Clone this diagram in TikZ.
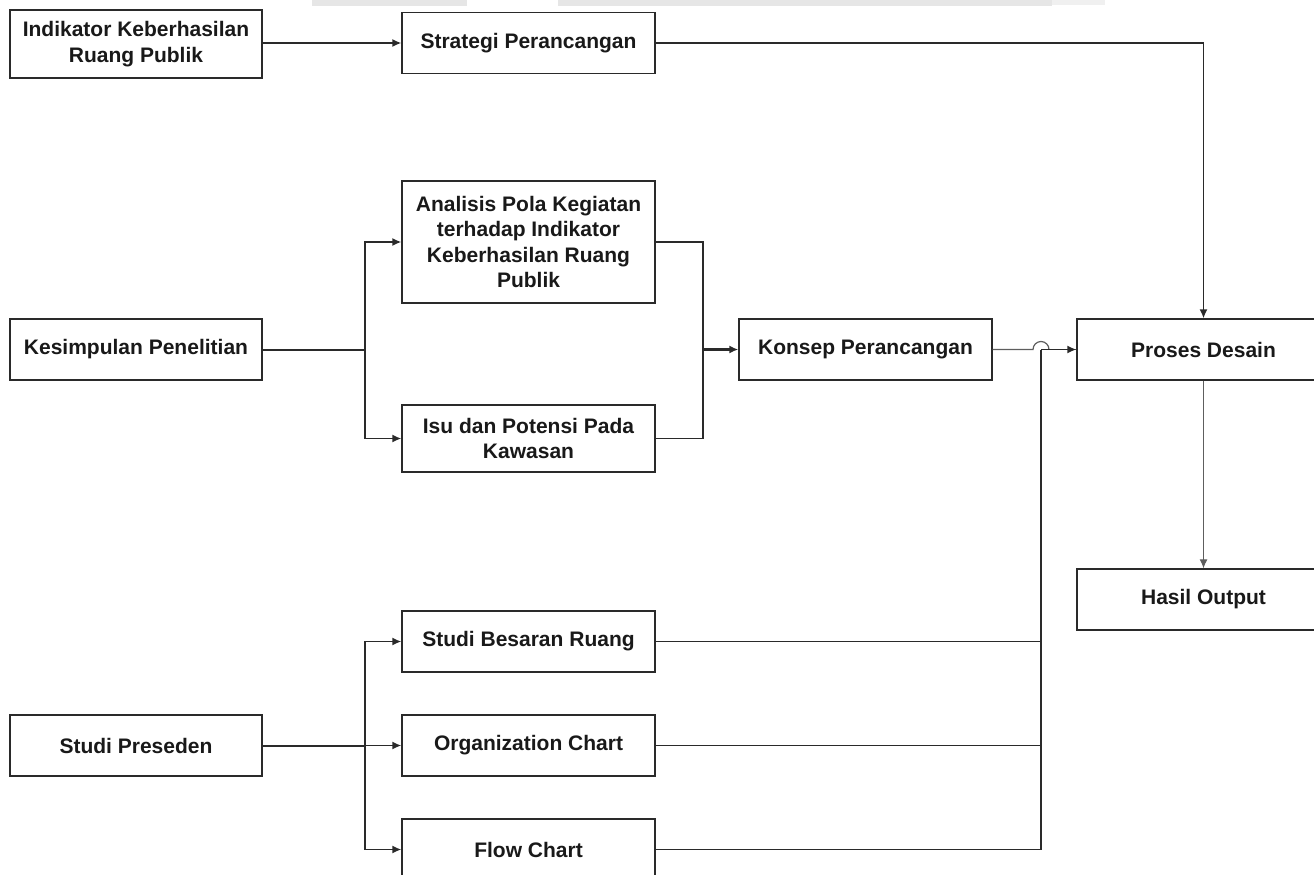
\documentclass[tikz,border=0pt]{standalone}
\usepackage{fontspec}
\setmainfont{Liberation Sans}
\usetikzlibrary{arrows.meta}
\definecolor{ln}{HTML}{2A2A2A}
\definecolor{lg}{HTML}{5E5E5E}
\definecolor{band}{HTML}{E6E6E6}
\begin{document}
\begin{tikzpicture}[x=1pt,y=-1pt,
  box/.style={draw=ln, line width=1.3pt, fill=white, minimum width=253pt, minimum height=61pt,
    inner sep=2pt, align=center, font=\fontsize{21}{25.5}\selectfont\bfseries, text=black!90},
  conn/.style={draw=ln, line width=1.6pt},
  tip/.style={-{Latex[length=9pt,width=8pt]}},
  arr/.style={conn, tip},
  thin/.style={draw=lg, line width=1.2pt}]
\useasboundingbox (0,0) rectangle (1314,875);
\fill[band] (312,0) rectangle (467,6);
\fill[band] (558,0) rectangle (1052,6);
\fill[band!60] (1052,0) rectangle (1105,5);

\node[box, minimum width=252pt, minimum height=68pt] (ind) at (136,44) {Indikator Keberhasilan\\Ruang Publik};
\node[box] (str) at (528.5,43) {Strategi Perancangan};
\node[box, minimum height=122pt] (ana) at (528.5,242) {Analisis Pola Kegiatan\\terhadap Indikator\\Keberhasilan Ruang\\Publik};
\node[box, minimum width=252pt] (kes) at (136,349.5) {Kesimpulan Penelitian};
\node[box, minimum height=67pt] (isu) at (528.5,438.5) {Isu dan Potensi Pada\\Kawasan};
\node[box] (kon) at (865.5,349.5) {Konsep Perancangan};
\node[box] (pro) at (1203.5,349.5) {Proses Desain};
\node[box] (has) at (1203.5,599.5) {Hasil Output};
\node[box] (sbr) at (528.5,641.5) {Studi Besaran Ruang};
\node[box] (org) at (528.5,745.5) {Organization Chart};
\node[box] (flo) at (528.5,849.5) {Flow Chart};
\node[box, minimum width=252pt] (pre) at (136,745.5) {Studi Preseden};

\coordinate (j1) at (365,349.5);
\coordinate (j2) at (703,349.5);
\coordinate (j3) at (365,745.5);
\coordinate (j4) at (1041,349.5);

% top
\draw[arr] (ind.east |- str.west) -- (str.west);
\draw[arr] (str.east) -| (pro.north);

% Kesimpulan branch
\draw[conn, line width=2pt] (kes.east) -- (j1);
\draw[arr] (j1) |- (ana.west);
\draw[arr] (j1) |- (isu.west);
\draw[conn] (ana.east) -| (j2);
\draw[conn] (isu.east) -| (j2);
\draw[arr, line width=2.2pt] (j2) -- (kon.west);

% Konsep to Proses with hop
\draw[thin] (kon.east) -- (1033,349.5) arc[start angle=180, end angle=360, radius=8];
\draw[thin] (1049,349.5) -- (pro.west);

% Studi Preseden branch
\draw[conn, line width=2pt] (pre.east) -- (j3);
\draw[arr] (j3) |- (sbr.west);
\draw[arr] (j3) -- (org.west);
\draw[arr] (j3) |- (flo.west);

\draw[conn] (sbr.east) -- (sbr.east -| j4);
\draw[conn] (org.east) -- (org.east -| j4);
\draw[conn, line width=1.8pt] (flo.east) -| (j4);
\draw[arr] (j4) -- (pro.west);

% Proses to Hasil
\draw[thin, tip] (pro.south) -- (has.north);
\end{tikzpicture}
\end{document}
